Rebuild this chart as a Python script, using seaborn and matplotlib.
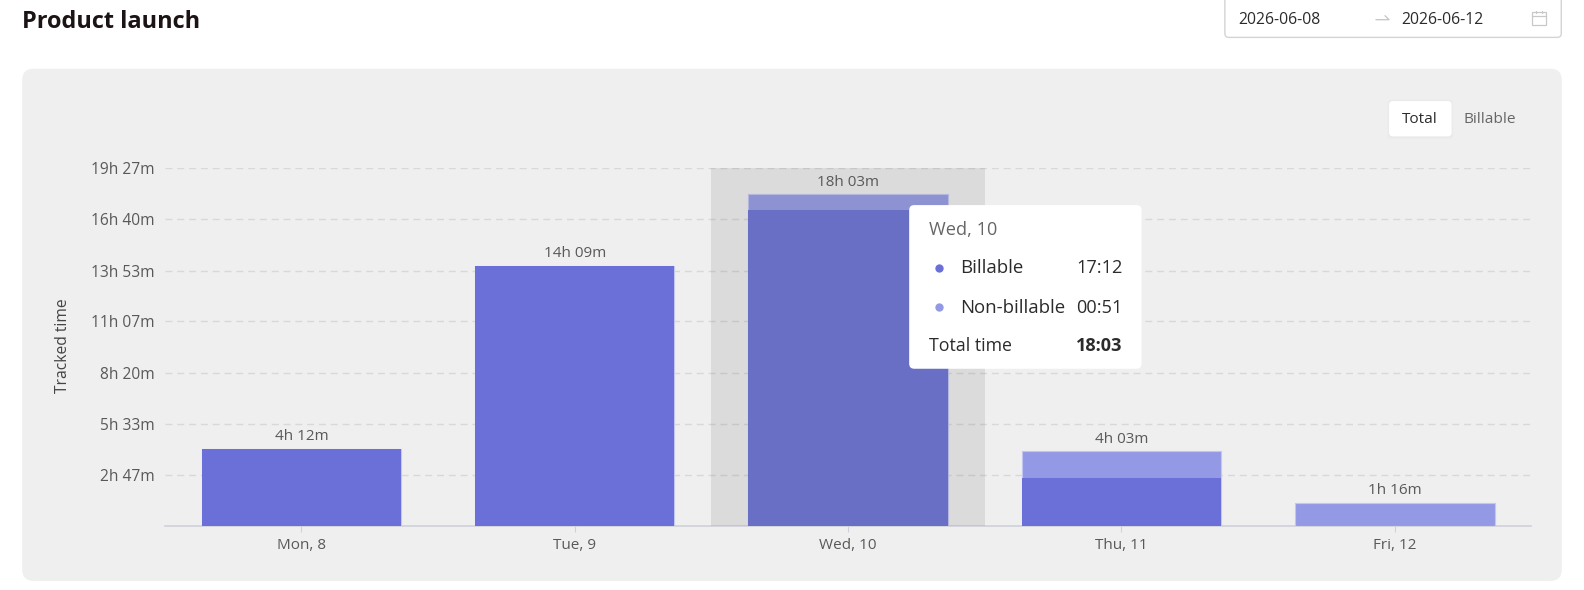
import matplotlib
matplotlib.use("Agg")
import matplotlib.pyplot as plt
from matplotlib.patches import FancyBboxPatch, Rectangle
import pandas as pd
import seaborn as sns

days = ["Mon, 8", "Tue, 9", "Wed, 10", "Thu, 11", "Fri, 12"]
billable = [252, 849, 1032, 155, 0]
non_billable = [0, 0, 51, 88, 76]
y_ticks = [167, 333, 500, 667, 833, 1000, 1167]
y_tick_labels = ["2h 47m", "5h 33m", "8h 20m", "11h 07m", "13h 53m", "16h 40m", "19h 27m"]
title = "Product launch"
date_start = "2026-06-08"
date_end = "2026-06-12"
highlight = "Wed, 10"

W, H = 1584, 590
# layout grid in which the page furniture is addressed
GW, GH = 1568, 584
sns.set_theme(style="white")
plt.rcParams["font.family"] = ["Open Sans", "Noto Sans", "DejaVu Sans"]
PT = 72 / 100
TXT = "#595959"
DARK = "#2b2b2b"
C_BILL = "#6a70d7"
C_NON = "#9499e5"

total = [a + b for a, b in zip(billable, non_billable)]
df = pd.DataFrame({"day": days, "billable": billable, "total": total})


def fmt(m):
    return f"{m // 60}h {m % 60:02d}m"


def clock(m):
    return f"{m // 60:02d}:{m % 60:02d}"


fig = plt.figure(figsize=(W / 100, H / 100), dpi=100, facecolor="white")

bg = fig.add_axes([0, 0, 1, 1], zorder=0)
bg.set_xlim(0, GW); bg.set_ylim(GH, 0); bg.axis("off")


def rrect(a, x0, y0, x1, y1, r, **kw):
    p = FancyBboxPatch((x0 + r, y0 + r), x1 - x0 - 2 * r, y1 - y0 - 2 * r,
                       boxstyle=f"round,pad={r},rounding_size={r}", **kw)
    a.add_patch(p)
    return p


rrect(bg, 22, 68, 1546, 575, 11, fc="#efefef", ec="none")
bg.text(22, 21.5, title, fontsize=23.5 * PT, fontweight="bold", color="#1c1414", va="center", ha="left")
rrect(bg, 1212.5, -8, 1545.5, 37, 4, fc="white", ec="#d4d4d4", lw=1)
bg.text(1226, 19.5, date_start, fontsize=15.8 * PT, color=DARK, va="center")
bg.text(1387, 19.5, date_end, fontsize=15.8 * PT, color=DARK, va="center")
bg.plot([1362, 1375, 1371], [19.5, 19.5, 15.5], color="#c4c4c4", lw=0.9)
bg.add_patch(Rectangle((1517, 12), 13, 13, fc="none", ec="#c8c8c8", lw=0.9))
bg.plot([1517, 1530], [16, 16], color="#c8c8c8", lw=0.9)
bg.plot([1520.5, 1520.5], [10.5, 13], color="#c8c8c8", lw=0.9)
bg.plot([1526.5, 1526.5], [10.5, 13], color="#c8c8c8", lw=0.9)
for i in range(6, 0, -1):
    rrect(bg, 1375 - i / 3, 100 - i / 3, 1437 + i / 3, 135 + i / 3 + 1, 4, fc="#000000", alpha=0.002, ec="none")
rrect(bg, 1375, 100, 1437, 135, 4, fc="white", ec="none")
bg.text(1405.5, 118, "Total", fontsize=15.4 * PT, color=DARK, ha="center", va="center")
bg.text(1475, 118, "Billable", fontsize=15.4 * PT, color="#666666", ha="center", va="center")

ax = fig.add_axes([163 / GW, 1 - 520.5 / GH, (1516 - 163) / GW, (520.5 - 166.5) / GH], zorder=1)
ax.patch.set_alpha(0)
sns.barplot(data=df, x="day", y="total", color=C_NON, saturation=1, width=0.73, ax=ax,
            edgecolor="#c3c6f0", linewidth=0.8, zorder=3)
sns.barplot(data=df[df["billable"] > 0], x="day", y="billable", order=days, color=C_BILL, saturation=1,
            width=0.73, ax=ax, linewidth=0, zorder=3)
ax.set_xlim(-0.5, 4.5)
ax.set_ylim(0, y_ticks[-1])
ax.set_yticks(y_ticks, y_tick_labels)
ax.tick_params(axis="y", length=0, pad=7, labelsize=15.5 * PT, labelcolor=TXT)
ax.tick_params(axis="x", length=4, width=0.8, color="#d0d0d8", pad=4.6, labelsize=15.3 * PT, labelcolor=TXT, bottom=True)
ax.set_xlabel("")
ax.set_ylabel("Tracked time", fontsize=15.6 * PT, color="#444444", labelpad=0)
ax.yaxis.set_label_coords((70 - 163) / (1516 - 163), 0.505)
ax.grid(axis="y", color="#d8d8d8", lw=1, ls=(0, (5, 3.5)), zorder=1)
ax.set_axisbelow(True)
for s in ["top", "right", "left"]:
    ax.spines[s].set_visible(False)
ax.spines["bottom"].set_color("#d3d3dc")
ax.spines["bottom"].set_linewidth(1.3)
ax.spines["bottom"].set_zorder(2)
i_hi = days.index(highlight)
ax.axvspan(i_hi - 0.5, i_hi + 0.5, color="#6a6a6a", alpha=0.15, lw=0, zorder=4)
for i, t in enumerate(total):
    ax.annotate(fmt(t), (i, t), xytext=(0, 3.2), textcoords="offset points", ha="center", va="bottom",
                fontsize=15.3 * PT, color=TXT, zorder=5)

fg = fig.add_axes([0, 0, 1, 1], zorder=2)
fg.set_xlim(0, GW); fg.set_ylim(GH, 0); fg.axis("off"); fg.patch.set_alpha(0)
for i in range(22, 0, -1):
    rrect(fg, 900 - i, 203 - i + 3, 1130 + i, 365 + i + 3, 6 + i, fc="#000000", alpha=0.0018, ec="none")
rrect(fg, 900, 203, 1130, 365, 5, fc="white", ec="none")
fg.text(920, 228, days[i_hi], fontsize=18.2 * PT, color="#666666", va="center")
rows = [("Billable", clock(billable[i_hi]), C_BILL, 265.5), ("Non-billable", clock(non_billable[i_hi]), C_NON, 304.5)]
for name, val, col, y in rows:
    fg.scatter([930], [y - 0.5], s=50 * PT, color=col, zorder=3, lw=0)
    fg.text(950, y, name, fontsize=18.6 * PT, color=DARK, va="center")
    fg.text(1111, y, val, fontsize=18.2 * PT, color=DARK, va="center", ha="right")
fg.text(920, 342.5, "Total time", fontsize=17.8 * PT, color=DARK, va="center")
fg.text(1111, 342.5, clock(total[i_hi]), fontsize=18.2 * PT, color=DARK, va="center", ha="right", fontweight="bold")

fig.savefig("out.png", dpi=100, facecolor="white")
